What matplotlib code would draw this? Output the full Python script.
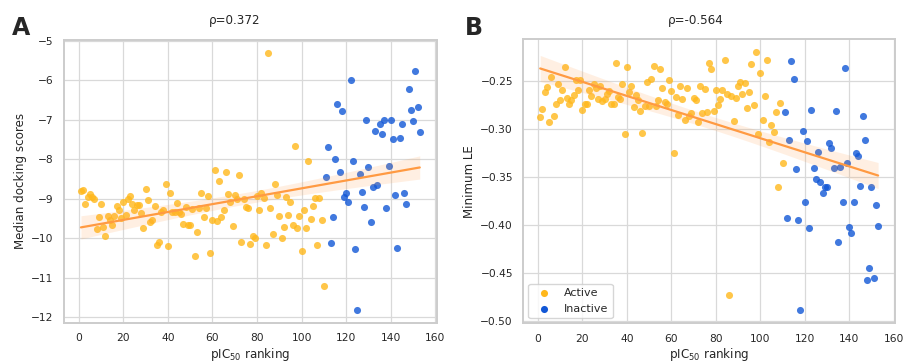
import numpy as np
import matplotlib
matplotlib.use("Agg")
import matplotlib.pyplot as plt
import seaborn as sns

# compounds ranked by pIC50 (1 = most potent); first 110 active, rest inactive
rank_active = np.arange(1, 111)
rank_inactive = np.arange(111, 154)

dock_active = [
    -8.80, -8.78, -9.12, -8.94, -8.87, -8.94, -9.00, -9.77, -9.46, -9.14,
    -9.72, -9.95, -9.43, -9.53, -9.66, -9.44, -9.19, -9.28, -9.48, -9.07,
    -9.40, -9.00, -8.92, -9.12, -9.28, -9.15, -9.15, -9.36, -9.73, -8.76,
    -9.02, -9.58, -9.54, -9.19, -10.16, -10.09, -9.34, -9.29, -8.62, -10.18,
    -8.86, -9.32, -9.33, -9.11, -9.33, -9.39, -9.63, -9.21, -9.66, -9.66,
    -9.26, -10.45, -9.85, -9.24, -8.86, -9.46, -9.23, -8.92, -10.38, -9.54,
    -8.27, -9.57, -8.55, -9.46, -9.29, -8.32, -8.88, -9.09, -9.69, -8.91,
    -9.00, -8.39, -10.10, -9.00, -9.21, -9.23, -10.13, -9.95, -9.98, -8.92,
    -9.29, -8.84, -8.97, -10.16, -5.30, -9.24, -9.90, -8.63, -8.91, -9.44,
    -9.99, -9.70, -8.95, -9.41, -9.07, -9.67, -7.67, -9.74, -9.43, -10.31,
    -9.28, -9.73, -8.03, -9.51, -9.19, -8.97, -10.17, -8.97, -9.53, -11.21,
]
dock_inactive = [
    -8.44, -7.68, -10.12, -9.45, -7.99, -6.60, -8.33, -6.77, -8.96, -8.86,
    -9.09, -5.98, -8.03, -10.26, -11.81, -8.37, -8.82, -9.20, -7.00, -8.20,
    -9.59, -8.71, -7.29, -8.65, -7.10, -7.36, -7.00, -9.22, -8.17, -7.00,
    -7.47, -8.91, -10.24, -7.45, -7.11, -8.84, -9.13, -6.22, -6.76, -7.02,
    -5.75, -6.66, -7.31,
]

le_active = [
    -0.2867, -0.2791, -0.2607, -0.2555, -0.2919, -0.2452, -0.2857, -0.2739, -0.2524, -0.2690,
    -0.2593, -0.2348, -0.2670, -0.2732, -0.2697, -0.2642, -0.2490, -0.2587, -0.2490, -0.2794,
    -0.2732, -0.2739, -0.2587, -0.2656, -0.2524, -0.2566, -0.2680, -0.2552, -0.2704, -0.2684,
    -0.2635, -0.2600, -0.2732, -0.2739, -0.2303, -0.2663, -0.2684, -0.2524, -0.3051, -0.2351,
    -0.2611, -0.2545, -0.2767, -0.2645, -0.2690, -0.2808, -0.3037, -0.2760, -0.2503, -0.2753,
    -0.2476, -0.2337, -0.2753, -0.2690, -0.2372, -0.2573, -0.2718, -0.2739, -0.2490, -0.2600,
    -0.3248, -0.2663, -0.2850, -0.2552, -0.2684, -0.2905, -0.2566, -0.2864, -0.2829, -0.2670,
    -0.2690, -0.2919, -0.2545, -0.2829, -0.2576, -0.2819, -0.2303, -0.2365, -0.2808, -0.2587,
    -0.2746, -0.2684, -0.2593, -0.2275, -0.2635, -0.4726, -0.2649, -0.2912, -0.2670, -0.2552,
    -0.2503, -0.2635, -0.2517, -0.2780, -0.2614, -0.2323, -0.2746, -0.2195, -0.3051, -0.2407,
    -0.2905, -0.2656, -0.2275, -0.3127, -0.2957, -0.3023, -0.2815, -0.3605, -0.2725, -0.3355,
]
le_inactive = [
    -0.2819, -0.3923, -0.3113, -0.2282, -0.2479, -0.3418, -0.3944, -0.4889, -0.3019, -0.3760,
    -0.3120, -0.4034, -0.2798, -0.3407, -0.3515, -0.3238, -0.3546, -0.3663, -0.3605, -0.3605,
    -0.3141, -0.3196, -0.3407, -0.2808, -0.4176, -0.3390, -0.3757, -0.2358, -0.3348, -0.4021,
    -0.4079, -0.3760, -0.3251, -0.3283, -0.3587, -0.2864, -0.3113, -0.4567, -0.4449, -0.3605,
    -0.4546, -0.3792, -0.4010,
]

titles = ["ρ=0.372", "ρ=-0.564"]
ylabels = ["Median docking scores", "Minimum LE"]
letters = ["A", "B"]

col_active = "#ffb81c"
col_inactive = "#1257d6"
col_line = "#ff9a42"

sns.set_theme(style="whitegrid")
plt.rcParams["font.family"] = ["DejaVu Sans"]


def reg_line(ax, x, y):
    # straight fit with 95% band, drawn over the points like regplot
    x = np.asarray(x, float)
    y = np.asarray(y, float)
    slope, inter = np.polyfit(x, y, 1)
    grid = np.linspace(x.min(), x.max(), 100)
    fit = slope * grid + inter
    res = y - (slope * x + inter)
    n = len(x)
    s = np.sqrt((res ** 2).sum() / (n - 2))
    se = s * np.sqrt(1 / n + (grid - x.mean()) ** 2 / ((x - x.mean()) ** 2).sum())
    ax.fill_between(grid, fit - 1.976 * se, fit + 1.976 * se, color=col_line,
                    alpha=0.15, lw=0, zorder=3)
    ax.plot(grid, fit, color=col_line, lw=1.6, zorder=4)


fig = plt.figure(figsize=(9.06, 3.63), dpi=100)
ax_a = fig.add_axes([64 / 906, 1 - 322.7 / 363, 372.7 / 906, 282.7 / 363])
ax_b = fig.add_axes([523.3 / 906, 1 - 323.3 / 363, 371.7 / 906, 284.0 / 363])

panels = [
    (ax_a, dock_active, dock_inactive),
    (ax_b, le_active, le_inactive),
]
title_x = [0.459, 0.465]

for i, (ax, ya, yi) in enumerate(panels):
    ax.scatter(rank_active, ya, s=26, color=col_active, alpha=0.8, lw=0,
               zorder=2, label="Active")
    ax.scatter(rank_inactive, yi, s=26, color=col_inactive, alpha=0.8, lw=0,
               zorder=2, label="Inactive")
    reg_line(ax, np.concatenate([rank_active, rank_inactive]), list(ya) + list(yi))

    ax.set_xticks(range(0, 161, 20))
    ax.tick_params(axis="both", length=0, pad=7.5, labelsize=7.7, labelcolor="#262626")
    ax.grid(color="#d9d9d9", lw=0.9)
    for sp in ax.spines.values():
        sp.set_color("#cccccc")
        sp.set_linewidth(1.4)
    ax.set_ylabel(ylabels[i], fontsize=8.6, color="#262626", labelpad=3)
    ax.set_xlabel("pIC$_{50}$ ranking", fontsize=8.6, color="#262626", labelpad=2)
    ax.text(title_x[i], 1.045, titles[i], transform=ax.transAxes, ha="center",
            va="bottom", fontsize=8.6, color="#262626")

ax_a.set_yticks(range(-12, -4))
ax_b.set_yticks([-0.50, -0.45, -0.40, -0.35, -0.30, -0.25])
ax_b.yaxis.set_major_formatter(matplotlib.ticker.FormatStrFormatter("%.2f"))
ax_b.yaxis.set_major_formatter(matplotlib.ticker.FuncFormatter(
    lambda v, p: ("%.2f" % v).replace("-", "\u2212")))

leg = ax_b.legend(loc="lower left", fontsize=8, frameon=True, borderaxespad=0.45)
leg.get_frame().set_edgecolor("#cccccc")
for h in leg.legend_handles:
    h.set_alpha(1)

fig.text(12 / 906, 1 - 35 / 363, letters[0], fontsize=17, fontweight="bold")
fig.text(465 / 906, 1 - 35 / 363, letters[1], fontsize=17, fontweight="bold")

fig.savefig("out.png", dpi=100)
